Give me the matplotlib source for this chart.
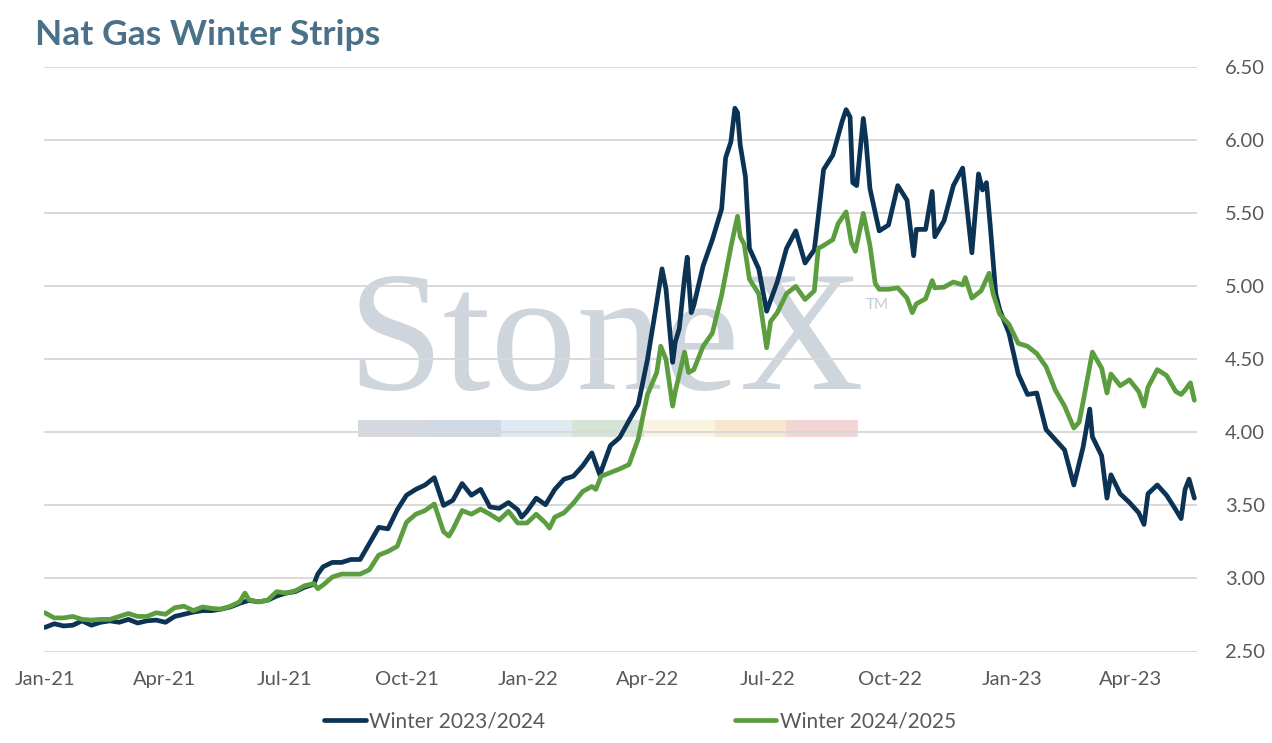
import numpy as np
import pandas as pd
import matplotlib
matplotlib.use("Agg")
import matplotlib.pyplot as plt
import matplotlib.dates as mdates
from matplotlib.patches import Rectangle

plt.rcParams['font.family'] = ['Lato', 'DejaVu Sans']

start = pd.Timestamp("2021-01-01")

# days since 2021-01-01 and strip price
navy_days = [0, 7, 14, 21, 28, 35, 42, 49, 56, 63, 70, 77, 84, 91, 98, 105, 112, 119, 126, 133,
             140, 147, 154, 161, 168, 175, 182, 189, 196, 203, 206, 210, 217, 224, 231, 238, 245, 252, 259, 266,
             273, 280, 287, 294, 301, 308, 315, 322, 329, 336, 343, 350, 357, 360, 364, 371, 378, 385, 392, 399,
             406, 413, 419, 427, 434, 441, 448, 455, 462, 466, 469, 474, 476, 479, 483, 485, 488, 490, 497, 504,
             511, 514, 518, 521, 523, 525, 529, 532, 539, 545, 553, 560, 567, 574, 581, 584, 588, 595, 602, 605,
             608, 610, 613, 618, 620, 623, 630, 637, 644, 651, 656, 658, 665, 670, 672, 679, 686, 693, 700, 705,
             708, 711, 714, 718, 721, 728, 735, 742, 749, 756, 763, 770, 777, 784, 789, 791, 798, 802, 805, 812,
             819, 826, 830, 833, 840, 847, 854, 858, 861, 864, 868]
navy_vals = [2.665, 2.69, 2.675, 2.68, 2.71, 2.68, 2.70, 2.71, 2.70, 2.72, 2.695, 2.71, 2.715, 2.70, 2.74, 2.755, 2.77, 2.78, 2.78, 2.79,
             2.805, 2.83, 2.85, 2.84, 2.85, 2.88, 2.90, 2.91, 2.94, 2.96, 3.03, 3.08, 3.11, 3.11, 3.13, 3.13, 3.24, 3.35, 3.34, 3.47,
             3.57, 3.61, 3.64, 3.69, 3.50, 3.535, 3.65, 3.57, 3.61, 3.49, 3.48, 3.52, 3.47, 3.42, 3.46, 3.55, 3.505, 3.61, 3.68, 3.70,
             3.77, 3.86, 3.71, 3.91, 3.965, 4.08, 4.19, 4.50, 4.89, 5.12, 4.98, 4.48, 4.62, 4.71, 5.06, 5.20, 4.82, 4.87, 5.14, 5.32,
             5.53, 5.88, 5.99, 6.22, 6.19, 5.97, 5.75, 5.26, 5.12, 4.83, 5.03, 5.26, 5.38, 5.16, 5.25, 5.48, 5.80, 5.90, 6.13, 6.21,
             6.16, 5.71, 5.69, 6.15, 6.00, 5.67, 5.38, 5.42, 5.69, 5.59, 5.21, 5.39, 5.39, 5.65, 5.34, 5.45, 5.69, 5.81, 5.23, 5.77,
             5.66, 5.71, 5.40, 4.95, 4.84, 4.68, 4.40, 4.26, 4.27, 4.02, 3.95, 3.88, 3.64, 3.90, 4.16, 3.97, 3.84, 3.55, 3.71, 3.58,
             3.52, 3.45, 3.37, 3.58, 3.64, 3.57, 3.47, 3.41, 3.61, 3.68, 3.55]

green_days = [0, 7, 14, 21, 28, 35, 42, 49, 56, 63, 70, 77, 84, 91, 98, 105, 112, 119, 126, 133,
              140, 147, 151, 154, 161, 168, 175, 182, 189, 196, 203, 206, 210, 217, 224, 231, 238, 245, 252, 259,
              266, 273, 280, 287, 294, 301, 305, 308, 315, 322, 329, 336, 343, 350, 357, 364, 371, 378, 381, 385,
              392, 399, 406, 413, 416, 420, 427, 434, 441, 448, 455, 462, 465, 469, 474, 476, 483, 486, 490, 497,
              504, 511, 518, 523, 525, 528, 532, 539, 545, 548, 553, 560, 567, 574, 581, 584, 588, 595, 599, 602,
              605, 609, 612, 618, 623, 627, 630, 637, 644, 651, 655, 658, 665, 670, 672, 679, 686, 693, 695, 700,
              707, 713, 716, 721, 728, 735, 742, 749, 756, 763, 770, 777, 781, 784, 791, 798, 802, 805, 812, 819,
              826, 830, 833, 840, 847, 854, 858, 861, 865, 868]
green_vals = [2.765, 2.73, 2.73, 2.74, 2.72, 2.715, 2.72, 2.72, 2.74, 2.76, 2.74, 2.74, 2.765, 2.755, 2.80, 2.81, 2.78, 2.805, 2.795, 2.79,
              2.81, 2.84, 2.90, 2.855, 2.84, 2.85, 2.91, 2.90, 2.915, 2.95, 2.965, 2.93, 2.955, 3.01, 3.03, 3.03, 3.03, 3.06, 3.16, 3.185,
              3.22, 3.385, 3.44, 3.465, 3.51, 3.32, 3.29, 3.335, 3.465, 3.44, 3.475, 3.44, 3.40, 3.46, 3.38, 3.38, 3.44, 3.38, 3.345, 3.42,
              3.45, 3.515, 3.595, 3.63, 3.61, 3.70, 3.725, 3.75, 3.78, 3.955, 4.26, 4.41, 4.59, 4.50, 4.18, 4.28, 4.55, 4.41, 4.43, 4.59,
              4.68, 4.94, 5.27, 5.48, 5.34, 5.29, 5.05, 4.95, 4.58, 4.76, 4.82, 4.95, 5.00, 4.91, 4.97, 5.26, 5.28, 5.32, 5.43, 5.47,
              5.51, 5.30, 5.24, 5.50, 5.28, 5.02, 4.98, 4.98, 4.99, 4.92, 4.82, 4.88, 4.915, 5.04, 4.99, 4.995, 5.03, 5.01, 5.06, 4.92,
              4.97, 5.09, 4.95, 4.81, 4.74, 4.61, 4.59, 4.54, 4.45, 4.29, 4.18, 4.03, 4.07, 4.21, 4.55, 4.44, 4.27, 4.40, 4.32, 4.36,
              4.28, 4.18, 4.31, 4.43, 4.39, 4.28, 4.26, 4.29, 4.34, 4.22]

series_names = ["Winter 2023/2024", "Winter 2024/2025"]
y_ticks = [2.50, 3.00, 3.50, 4.00, 4.50, 5.00, 5.50, 6.00, 6.50]

navy = "#0c3354"
green = "#5c9e3f"
grey_txt = "#595959"

navy_dates = start + pd.to_timedelta(navy_days, unit="D")
green_dates = start + pd.to_timedelta(green_days, unit="D")

W, H = 1272, 743
fig = plt.figure(figsize=(W / 100, H / 100), dpi=100)
ax = fig.add_axes([44 / W, 91.5 / H, (1197 - 44) / W, (651.5 - 67.3) / H])
ax.patch.set_alpha(0)

# watermark logo behind everything
fig.text(606 / W, 1 - 389 / H, "StoneX", fontsize=124, family="Liberation Serif",
         color="#cfd5dd", ha="center", va="baseline", zorder=-2)
fig.text(866 / W, 1 - 309 / H, "TM", fontsize=11, color="#c5cbd3", ha="left",
         va="baseline", zorder=-2)
bar_cols = ["#d4d9df", "#cfd9e3", "#dee9f1", "#d6e4d8", "#f8f4e0", "#f8e6cf", "#f2d5d5"]
for i, c in enumerate(bar_cols):
    fig.add_artist(Rectangle(((358 + i * 71.4) / W, 1 - 437 / H), 71.4 / W, 17 / H,
                             transform=fig.transFigure, color=c, lw=0, zorder=-2))

ax.plot(navy_dates, navy_vals, color=navy, lw=3.4, label=series_names[0],
        solid_joinstyle="round", solid_capstyle="round", zorder=3)
ax.plot(green_dates, green_vals, color=green, lw=3.4, label=series_names[1],
        solid_joinstyle="round", solid_capstyle="round", zorder=4)

ax.set_ylim(2.5, 6.5)
ax.set_yticks(y_ticks)
ax.yaxis.set_major_formatter(plt.FormatStrFormatter("%.2f"))
ax.yaxis.tick_right()
ax.set_xlim(start - pd.Timedelta(hours=18), start + pd.Timedelta(days=870))
ax.xaxis.set_major_locator(mdates.MonthLocator(bymonth=[1, 4, 7, 10]))
ax.xaxis.set_major_formatter(mdates.DateFormatter("%b-%y"))

ax.grid(axis="y", color="#d9d9d9", lw=1.4, zorder=1)
ax.set_axisbelow(True)
for s in ax.spines.values():
    s.set_visible(False)
ax.tick_params(axis="both", length=0, labelsize=14.5, colors=grey_txt)
ax.tick_params(axis="y", pad=20)
ax.tick_params(axis="x", pad=14)

fig.text(35 / W, 1 - 45 / H, "Nat Gas Winter Strips", fontsize=25.5, fontweight="bold",
         color="#4b7089", ha="left", va="baseline")

leg = fig.legend(loc="center", bbox_to_anchor=(640 / W, 1 - 721 / H), ncol=2, frameon=False,
                 fontsize=15, handlelength=2.0, handletextpad=0.15, columnspacing=9.1)
for t in leg.get_texts():
    t.set_color(grey_txt)

fig.savefig("out.png", dpi=100)
